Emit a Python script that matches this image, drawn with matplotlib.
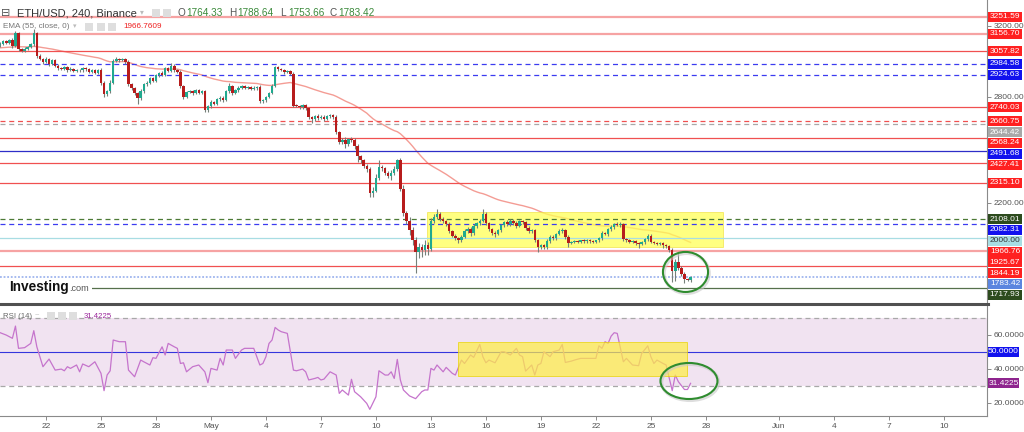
import numpy as np
import matplotlib.pyplot as plt
from matplotlib.patches import Rectangle, Ellipse
from matplotlib.lines import Line2D
from matplotlib.transforms import blended_transform_factory

plt.rcParams['font.family'] = ['Liberation Sans', 'DejaVu Sans']

W, H = 1024, 432

# ============ data ============
# ETH/USD 4h candles, day 0 = Apr 22, first candle Apr 19 12:00
start_day = -2.5
first_open = 3090
closes = [
    3100, 3112, 3105, 3118, 3085, 3160, 3068, 3060, 3072, 3080,   # 0
    3095, 3158, 3030, 3015, 2995, 3010, 2985, 3005, 2975, 2960,   # 10
    2955, 2965, 2950, 2958, 2945, 2952, 2948, 2960, 2955, 2940,   # 20
    2948, 2935, 2950, 2880, 2815, 2830, 2880, 3000, 3015, 3005,   # 30
    3010, 2995, 2870, 2850, 2820, 2790, 2830, 2870, 2880, 2905,   # 40
    2890, 2920, 2935, 2925, 2960, 2945, 2975, 2950, 2940, 2860,   # 50
    2800, 2825, 2830, 2820, 2835, 2822, 2830, 2725, 2745, 2770,   # 60
    2760, 2785, 2795, 2780, 2830, 2860, 2820, 2835, 2850, 2860,   # 70
    2850, 2855, 2845, 2850, 2855, 2775, 2780, 2800, 2820, 2860,   # 80
    2965, 2955, 2950, 2940, 2945, 2930, 2750, 2748, 2740, 2752,   # 90
    2735, 2685, 2672, 2690, 2680, 2688, 2675, 2690, 2695, 2685,   # 100
    2600, 2545, 2555, 2530, 2560, 2555, 2520, 2465, 2440, 2410,   # 110
    2390, 2255, 2270, 2340, 2405, 2395, 2370, 2350, 2370, 2390,   # 120
    2440, 2280, 2145, 2100, 2046, 1990, 1925, 1950, 1935, 1960,   # 130
    1940, 2100, 2120, 2135, 2110, 2095, 2080, 2040, 2015, 2000,   # 140
    1990, 2010, 2040, 2055, 2030, 2070, 2085, 2100, 2140, 2085,   # 150
    2050, 2030, 2025, 2045, 2075, 2090, 2080, 2100, 2085, 2070,   # 160
    2095, 2090, 2060, 2040, 2045, 1990, 1950, 1960, 1950, 1985,   # 170
    2010, 2000, 2025, 2040, 2045, 2010, 1975, 1978, 1985, 1980,   # 180
    1988, 1983, 1990, 1985, 1982, 1988, 2000, 2030, 2025, 2050,   # 190
    2065, 2080, 2075, 2080, 1995, 1990, 1980, 1985, 1975, 1970,   # 200
    1978, 1995, 2015, 1980, 1975, 1970, 1972, 1960, 1955, 1935,   # 210
    1815, 1865, 1832, 1800, 1772, 1764.33, 1783.42,               # 220
]
wick_up = [
    8, 6, 10, 5, 12, 10, 8, 6, 9, 7,
    6, 25, 8, 10, 6, 12, 8, 10, 6, 7,
    5, 8, 6, 9, 5, 7, 6, 10, 5, 8,
    6, 7, 9, 12, 10, 8, 15, 12, 10, 6,
    8, 7, 10, 8, 6, 9, 12, 7, 10, 8,
    6, 9, 7, 8, 10, 6, 15, 8, 7, 10,
    8, 7, 9, 6, 10, 7, 8, 10, 6, 9,
    7, 8, 6, 9, 10, 20, 8, 7, 9, 6,
    8, 6, 7, 9, 8, 10, 7, 6, 8, 9,
    10, 8, 7, 9, 6, 8, 12, 7, 6, 8,
    7, 9, 8, 6, 10, 7, 8, 9, 6, 7,
    10, 8, 12, 15, 8, 10, 9, 12, 8, 10,
    9, 15, 20, 25, 38, 10, 8, 12, 15, 20,
    10, 15, 20, 12, 18, 20, 15, 25, 20, 30,
    18, 15, 20, 30, 12, 10, 8, 12, 9, 10,
    8, 10, 12, 8, 10, 12, 9, 10, 25, 10,
    8, 10, 12, 9, 8, 10, 12, 8, 7, 10,
    9, 8, 10, 7, 8, 10, 8, 9, 7, 10,
    8, 9, 7, 10, 12, 8, 6, 7, 5, 6,
    5, 6, 7, 5, 6, 5, 8, 10, 8, 7,
    9, 8, 12, 10, 8, 6, 7, 8, 6, 7,
    6, 8, 10, 7, 6, 5, 7, 6, 8, 7,
    10, 20, 52, 12, 8, 6, 5.22,
]
wick_dn = [
    7, 9, 6, 10, 8, 5, 10, 8, 6, 9,
    7, 6, 10, 8, 12, 6, 10, 7, 9, 8,
    6, 7, 9, 5, 8, 6, 10, 7, 9, 6,
    8, 9, 6, 12, 15, 10, 8, 9, 7, 10,
    6, 8, 10, 12, 10, 30, 8, 10, 7, 9,
    8, 7, 10, 6, 9, 8, 7, 10, 8, 12,
    15, 8, 7, 10, 6, 9, 8, 10, 12, 8,
    9, 7, 10, 8, 6, 9, 10, 7, 8, 6,
    7, 9, 8, 6, 10, 12, 8, 10, 7, 6,
    8, 9, 7, 10, 8, 9, 10, 8, 12, 7,
    9, 12, 22, 8, 10, 7, 12, 8, 9, 10,
    12, 15, 10, 18, 8, 12, 15, 35, 12, 15,
    18, 23, 20, 10, 12, 15, 12, 10, 18, 12,
    10, 15, 20, 18, 25, 30, 120, 35, 40, 30,
    35, 12, 15, 10, 12, 9, 12, 10, 8, 12,
    15, 10, 8, 12, 15, 9, 10, 8, 10, 12,
    10, 12, 15, 8, 10, 9, 12, 10, 8, 10,
    8, 10, 12, 10, 8, 12, 30, 10, 12, 8,
    10, 8, 12, 9, 10, 12, 25, 8, 7, 9,
    6, 8, 7, 9, 6, 8, 7, 9, 8, 10,
    8, 10, 7, 9, 12, 10, 8, 9, 12, 25,
    10, 8, 12, 9, 8, 10, 9, 12, 10, 15,
    60, 55, 10, 15, 24, 8, 10.67,
]
ohlc_last = (1764.33, 1788.64, 1753.66, 1783.42)

ema_seed = 3075
ema_last = 1966.7609

level_prices = [3251.59, 3156.70, 3057.82, 2984.58, 2924.63, 2740.03, 2660.75,
                2644.42, 2568.24, 2491.68, 2427.41, 2315.10, 2108.01, 2082.31,
                2000.00, 1925.67, 1844.19, 1717.93]
level_kinds = ['pink', 'pink', 'red', 'blue_dash', 'blue_dash', 'red', 'red_dash',
               'gray_dash', 'red', 'blue', 'red', 'red', 'green_dash', 'blue_dash',
               'cyan', 'pink', 'red', 'green']

rsi_idx = [0, 2, 4, 5, 6, 8, 10, 11, 12, 14, 16, 18, 20, 21, 22, 23, 25, 26, 27, 29,
           31, 33, 34, 35, 36, 37, 39, 41, 42, 44, 46, 47, 49, 50, 51, 53, 54, 55, 57, 58,
           59, 60, 61, 63, 65, 67, 68, 69, 71, 72, 73, 74, 76, 77, 79, 80, 83, 85, 86, 87,
           88, 89, 90, 91, 92, 94, 96, 97, 99, 100, 101, 103, 104, 105, 106, 108, 110, 111, 112, 114,
           115, 116, 118, 120, 121, 123, 124, 126, 127, 128, 129, 130, 131, 132, 134, 136, 138, 139, 140, 141,
           142, 143, 144, 145, 146, 148, 149, 151, 152, 154, 155, 157, 158, 159, 160, 162, 164, 165, 167, 169,
           170, 171, 172, 174, 175, 176, 177, 178, 180, 181, 183, 184, 185, 187, 188, 190, 192, 193, 195, 196,
           197, 198, 199, 200, 201, 202, 204, 205, 207, 209, 210, 212, 213, 214, 215, 217, 218, 220, 221, 222,
           224, 225, 226]
rsi_val = [61.2, 59.8, 57.9, 65.1, 52.0, 52.4, 54.9, 62.4, 52.9, 41.2, 45.7, 39.2, 39.8, 38.8, 41.2, 40.2, 42.2, 38.2, 42.8, 41.2,
           44.1, 37.3, 27.1, 36.3, 38.8, 56.9, 55.9, 55.9, 39.2, 35.3, 45.1, 44.1, 42.2, 46.5, 46.1, 52.9, 48.1, 54.9, 52.9, 52.0,
           43.1, 43.5, 38.2, 41.2, 42.2, 38.2, 31.8, 40.2, 39.2, 46.1, 42.2, 51.0, 51.0, 46.1, 51.0, 52.0, 52.0, 42.2, 43.1, 47.1,
           54.9, 56.9, 64.3, 62.8, 61.8, 60.8, 39.2, 38.8, 39.8, 38.2, 33.4, 34.3, 34.9, 33.4, 33.9, 38.2, 36.3, 25.5, 27.5, 24.5,
           33.8, 26.5, 23.5, 19.6, 16.1, 23.5, 38.8, 36.3, 36.3, 38.2, 34.3, 45.5, 33.4, 27.5, 24.0, 22.4, 26.5, 27.5, 27.5, 40.2,
           39.2, 42.2, 40.2, 38.2, 40.8, 37.3, 36.3, 45.1, 43.1, 48.1, 46.7, 54.3, 47.1, 43.5, 45.1, 43.5, 50.0, 50.0, 48.1, 52.0,
           48.1, 47.1, 38.6, 42.2, 36.3, 42.2, 43.1, 50.0, 47.1, 50.0, 51.0, 54.3, 43.7, 44.5, 45.1, 46.1, 46.1, 46.1, 46.1, 53.5,
           52.0, 55.9, 54.9, 59.2, 61.2, 60.8, 44.1, 46.1, 42.2, 41.8, 49.0, 53.5, 47.1, 43.1, 45.1, 43.1, 42.2, 27.1, 36.3, 32.4,
           27.8, 27.8, 31.4225]

price_ticks = [3200, 2800, 2200]
rsi_ticks = [60, 40, 20]
tick_days = [0, 3, 6, 9, 12, 15, 18, 21, 24, 27, 30, 33, 36, 40, 43, 46, 49]
tick_labels = ['22', '25', '28', 'May', '4', '7', '10', '13', '16', '19', '22',
               '25', '28', 'Jun', '4', '7', '10']

# ============ derived ============
closes = np.array(closes, dtype=float)
n = len(closes)
x = start_day + np.arange(n) / 6
opens = np.r_[first_open, closes[:-1]]
highs = np.maximum(opens, closes) + np.array(wick_up)
lows = np.minimum(opens, closes) - np.array(wick_dn)
up = closes >= opens

k = 2 / 56
ema = []
e = ema_seed
for c in closes:
    e = e + k * (c - e)
    ema.append(e)

# ============ figure ============
fig = plt.figure(figsize=(W / 100, H / 100), dpi=100, facecolor='white')
ax = fig.add_axes([0, 130 / H, 987 / W, 302 / H])
ax2 = fig.add_axes([0, 16 / H, 987 / W, 111 / H], sharex=ax)

ax.set_xlim(-2.51, 51.34)
ax.set_ylim(1640.3, 3346.0)
ax2.set_ylim(12.2, 77.5)

for a in (ax, ax2):
    for s in ('top', 'bottom', 'left'):
        a.spines[s].set_visible(False)
    a.spines['right'].set_color('#8a8a8a')
    a.spines['right'].set_linewidth(0.8)
ax2.spines['bottom'].set_visible(True)
ax2.spines['bottom'].set_color('#8a8a8a')
ax2.spines['bottom'].set_linewidth(0.8)

# ---- level lines ----
styles = {
    'pink':       dict(color='#f6a3a3', lw=1.6, ls='-',           bg='#ff2020', fg='white'),
    'red':        dict(color='#f05050', lw=0.9, ls='-',           bg='#ff2020', fg='white'),
    'red_dash':   dict(color='#f05050', lw=0.9, ls=(0, (4, 3)),   bg='#ff2020', fg='white'),
    'gray_dash':  dict(color='#a8a8a8', lw=0.9, ls=(0, (4, 3)),   bg='#a8a8a8', fg='white'),
    'blue_dash':  dict(color='#3b3bf0', lw=0.9, ls=(0, (4, 3)),   bg='#1111ee', fg='white'),
    'blue':       dict(color='#2e2ec8', lw=0.9, ls='-',           bg='#1111ee', fg='white'),
    'green_dash': dict(color='#4d7a36', lw=0.9, ls=(0, (4, 3)),   bg='#2d4b1e', fg='white'),
    'green':      dict(color='#56704c', lw=0.9, ls='-',           bg='#2d4b1e', fg='white'),
    'cyan':       dict(color='#a8dde3', lw=0.9, ls='-',           bg='#a8dde3', fg='#333333'),
    'ema':        dict(bg='#ff2020', fg='white'),
    'last':       dict(bg='#5b85df', fg='white'),
}

for p, kind in zip(level_prices, level_kinds):
    st = styles[kind]
    ax.axhline(p, color=st['color'], lw=st['lw'], ls=st['ls'], zorder=3)
ax.axhline(closes[-1], color='#9fb5ee', lw=1.3, ls=(0, (1, 1)), zorder=3)

# ---- yellow consolidation box ----
ax.add_patch(Rectangle((20.79, 1951), 36.93 - 20.79, 2149 - 1951,
                       facecolor='#ffff55', alpha=0.75, edgecolor='#f0e040', lw=0.6, zorder=2))

# ---- EMA ----
ax.plot(x, ema, color='#f28b82', lw=1.0, alpha=0.85, zorder=1)

# ---- candles ----
col = np.where(up, '#20a98f', '#b71c1c')
ax.vlines(x, lows, highs, color='#76807a', lw=0.8, zorder=4)
body = np.maximum(np.abs(closes - opens), 4)
ax.bar(x, body, bottom=np.minimum(opens, closes), width=0.135, color=col, lw=0, zorder=5)

# ---- green circle ----
ax.add_patch(Ellipse((34.95, 1802), 2.46, 226, fill=False, edgecolor='#c8c8c8',
                     lw=2.4, alpha=0.6, zorder=6))
ax.add_patch(Ellipse((34.89, 1810), 2.46, 226, fill=False, edgecolor='#2f8c2f',
                     lw=1.5, zorder=7))

# ---- price axis ----
ax.yaxis.tick_right()
ax.set_yticks(price_ticks)
ax.set_yticklabels([f'{t:.2f}' for t in price_ticks])
ax.tick_params(axis='y', length=3, width=0.7, color='#8a8a8a', labelsize=6,
               labelcolor='#555555', pad=2)
ax.tick_params(axis='x', which='both', bottom=False, labelbottom=False)

# label boxes on the right, pushed apart like the platform does
ppp = (3346.0 - 1640.3) / 302
labels = [(p, styles[k_]) for p, k_ in zip(level_prices, level_kinds)]
labels += [(ema_last, styles['ema']), (closes[-1], styles['last'])]
labels.sort(key=lambda t: -t[0])
trans = blended_transform_factory(ax.transAxes, ax.transData)
prev = None
for p, st in labels:
    yy = p if prev is None else min(p, prev - 10.8 * ppp)
    prev = yy
    ax.add_patch(Rectangle((1.001, yy - 5.0 * ppp), 34 / 987, 10.0 * ppp, transform=trans,
                           facecolor=st['bg'], edgecolor='none', clip_on=False, zorder=10))
    ax.text(1.001 + 17 / 987, yy, f'{p:.2f}', transform=trans, ha='center', va='center',
            fontsize=6, color=st['fg'], clip_on=False, zorder=11)

# ---- RSI panel ----
ax2.axhspan(30, 70, color='#f1e3f1', lw=0, zorder=0)
ax2.axhline(70, color='#a8a8a8', lw=0.9, ls=(0, (4, 3)), zorder=1)
ax2.axhline(30, color='#a8a8a8', lw=0.9, ls=(0, (4, 3)), zorder=1)
ax2.axhline(50, color='#3535dd', lw=0.8, zorder=1)
rx = start_day + np.array(rsi_idx) / 6
ax2.plot(rx, rsi_val, color='#c574cc', lw=0.9, zorder=2)
ax2.add_patch(Rectangle((22.46, 35.9), 34.95 - 22.46, 55.5 - 35.9,
                        facecolor='#ffee44', alpha=0.7, edgecolor='#e8d400', lw=0.7, zorder=3))
ax2.add_patch(Ellipse((35.14, 32.0), 3.11, 21.2, fill=False, edgecolor='#c8c8c8',
                      lw=2.4, alpha=0.6, zorder=4))
ax2.add_patch(Ellipse((35.08, 32.8), 3.11, 21.2, fill=False, edgecolor='#2f8c2f',
                      lw=1.5, zorder=5))

ax2.yaxis.tick_right()
ax2.set_yticks(rsi_ticks)
ax2.set_yticklabels([f'{t:.4f}' for t in rsi_ticks])
ax2.tick_params(axis='y', length=3, width=0.7, color='#8a8a8a', labelsize=6,
                labelcolor='#555555', pad=2)
ax2.set_xticks(tick_days)
ax2.set_xticklabels(tick_labels)
ax2.tick_params(axis='x', length=3, width=0.7, color='#8a8a8a', labelsize=6,
                labelcolor='#555555', pad=2)

trans2 = blended_transform_factory(ax2.transAxes, ax2.transData)
rppp = (77.5 - 12.2) / 111
for v, bg in ((50.0, '#1111ee'), (rsi_val[-1], '#8e248e')):
    ax2.add_patch(Rectangle((1.001, v - 5.0 * rppp), 31 / 987, 10.0 * rppp, transform=trans2,
                            facecolor=bg, edgecolor='none', clip_on=False, zorder=10))
    ax2.text(1.001 + 15.5 / 987, v, f'{v:.4f}', transform=trans2, ha='center', va='center',
             fontsize=6, color='white', clip_on=False, zorder=11)

# ---- separator between panels ----
fig.add_artist(Line2D([0, 988 / W], [1 - 304 / H] * 2, lw=2.2, color='#505050',
                      transform=fig.transFigure))


# ---- header texts ----
def ftext(px, py, s, **kw):
    fig.text(px / W, 1 - py / H, s, ha='left', va='center', **kw)


def icon(px, py, size=8):
    fig.add_artist(Rectangle((px / W, 1 - (py + size) / H), size / W, size / H,
                             transform=fig.transFigure, facecolor='#dedede', edgecolor='none'))


ftext(1, 13, '⊟', fontsize=8, color='#555555')
ftext(17, 13, 'ETH/USD, 240, Binance', fontsize=8, color='#333333')
ftext(140, 13, '▾', fontsize=5.5, color='#bbbbbb')
icon(152, 9)
icon(163, 9)
o, h, l, c = ohlc_last
for px, letter, val in ((178, 'O', o), (229, 'H', h), (280, 'L', l), (330, 'C', c)):
    ftext(px, 13, letter, fontsize=7.2, color='#555555')
    ftext(px + 8, 13, f'{val:.2f}', fontsize=7.2, color='#3b8a3b')

ftext(3, 27, 'EMA (55, close, 0)', fontsize=5.9, color='#777777')
ftext(73, 27, '▾', fontsize=5, color='#bbbbbb')
icon(85, 23)
icon(97, 23)
icon(108, 23)
ftext(123, 27, f'{ema_last:.4f}', fontsize=5.9, color='#ee2020')

ftext(3, 316, 'RSI (14)', fontsize=5.6, color='#666666')
ftext(35, 316, '~', fontsize=5.5, color='#bbbbbb')
icon(47, 312)
icon(58, 312)
icon(69, 312)
ftext(84, 316, f'{rsi_val[-1]:.4f}', fontsize=5.6, color='#9b279b')

# logo sits on a white patch that hides the level line behind it
fig.add_artist(Rectangle((0, 1 - 295 / H), 92 / W, 15 / H, transform=fig.transFigure,
                         facecolor='white', edgecolor='none'))
ftext(9, 287, 'Investing', fontsize=9.8, weight='bold', color='#111111')
ftext(69, 288.5, '.com', fontsize=6.6, color='#555555')

fig.savefig('out.png', dpi=100)
